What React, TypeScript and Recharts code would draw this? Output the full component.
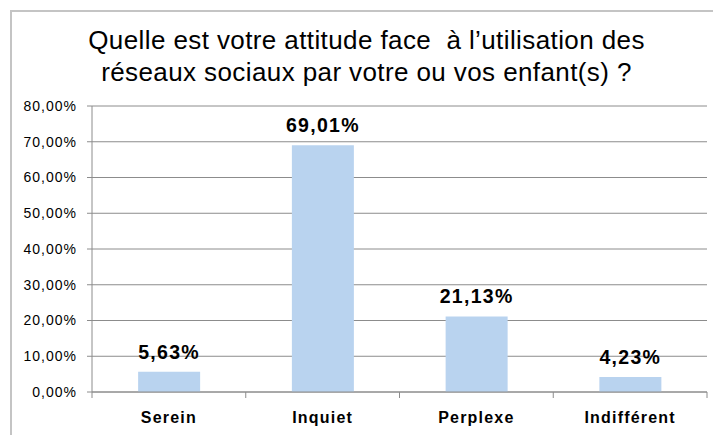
import { BarChart, Bar, XAxis, YAxis, CartesianGrid, LabelList } from 'recharts';

// ============================================================================
// DATA
// ============================================================================

const categories = ['Serein', 'Inquiet', 'Perplexe', 'Indifférent'];
const percentages = [5.63, 69.01, 21.13, 4.23];
const yTicks = [0, 10, 20, 30, 40, 50, 60, 70, 80];
const titleLines = [
    'Quelle est votre attitude face  à l\u2019utilisation des',
    'réseaux sociaux par votre ou vos enfant(s) ?',
];

const data = categories.map((name, i) => ({ name, value: percentages[i] }));

const FONT = '"Liberation Sans", Arial, sans-serif';
const GRID = '#8c8c8c';
const TICK_SIZE = 6;
const TICK_MARGIN = 10;

const frDecimal = (v: number) => `${v.toFixed(2).replace('.', ',')}%`;

// Category label, with the tick marks drawn on the band edges (Excel style)
function CategoryTick(props: any) {
    const { x, y, payload, index, visibleTicksCount } = props;
    const half = payload?.offset ?? 0;
    const axisY = y - TICK_MARGIN - TICK_SIZE;
    return (
        <g>
            <line x1={x - half} x2={x - half} y1={axisY} y2={axisY + TICK_SIZE} stroke={GRID} />
            {index === visibleTicksCount - 1 && (
                <line x1={x + half} x2={x + half} y1={axisY} y2={axisY + TICK_SIZE} stroke={GRID} />
            )}
            <text
                x={x}
                y={y}
                dy={15}
                textAnchor="middle"
                fontFamily={FONT}
                fontSize={16}
                fontWeight="bold"
                letterSpacing={1.2}
                fill="#000"
            >
                {payload.value}
            </text>
        </g>
    );
}

export default function App() {
    return (
        <div
            style={{
                position: 'absolute',
                left: 0,
                top: 0,
                width: 713,
                height: 435,
                overflow: 'hidden',
                background: '#fff',
            }}
        >
            {/* chart frame */}
            <div
                style={{
                    position: 'absolute',
                    left: 10,
                    top: 10,
                    width: 740,
                    height: 460,
                    border: '2px solid #c4c4c4',
                }}
            />
            <div
                style={{
                    position: 'absolute',
                    left: 11,
                    top: 24,
                    width: 711,
                    textAlign: 'center',
                    fontFamily: FONT,
                    fontSize: 26,
                    lineHeight: '32px',
                    letterSpacing: 0.4,
                    color: '#000',
                }}
            >
                {titleLines.map((line, i) => (
                    <div key={i} style={{ whiteSpace: 'pre' }}>{line}</div>
                ))}
            </div>
            <div style={{ position: 'absolute', left: 0, top: 0 }}>
                <BarChart
                    width={713}
                    height={435}
                    data={data}
                    margin={{ top: 106, right: 6, left: 12, bottom: 0 }}
                    barCategoryGap="30%"
                >
                    <CartesianGrid vertical={false} stroke={GRID} />
                    <YAxis
                        width={80}
                        domain={[0, 80]}
                        ticks={yTicks}
                        interval={0}
                        tickFormatter={frDecimal}
                        stroke={GRID}
                        tickSize={5}
                        tickMargin={10}
                        tick={{ fill: '#000', fontFamily: FONT, fontSize: 14, letterSpacing: 1 }}
                    />
                    <XAxis
                        dataKey="name"
                        height={43}
                        stroke={GRID}
                        tickLine={false}
                        tickSize={TICK_SIZE}
                        tickMargin={TICK_MARGIN}
                        interval={0}
                        tick={<CategoryTick />}
                    />
                    <Bar dataKey="value" fill="#b9d3ef" isAnimationActive={false}>
                        <LabelList
                            dataKey="value"
                            position="top"
                            offset={13}
                            formatter={(v: any) => frDecimal(Number(v))}
                            style={{
                                fontFamily: FONT,
                                fontSize: 19.5,
                                fontWeight: 'bold',
                                letterSpacing: 1.3,
                                fill: '#000',
                            }}
                        />
                    </Bar>
                </BarChart>
            </div>
        </div>
    );
}
